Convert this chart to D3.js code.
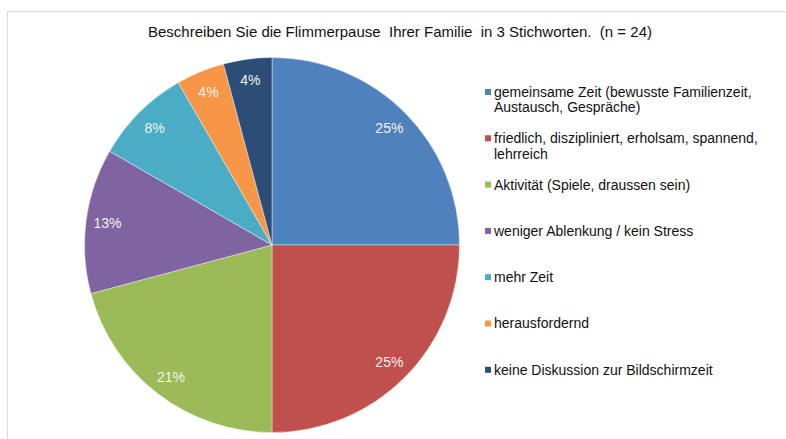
<!DOCTYPE html>
<html>
<head>
<meta charset="utf-8">
<script src="https://cdn.jsdelivr.net/npm/d3@7"></script>
<style>
  body { margin: 0; background: #fff; }
  svg { display: block; font-family: "Liberation Sans", Arial, sans-serif; }
</style>
</head>
<body>
<svg id="chart"></svg>
<script>
// answers (n = 24)
const categories = [
  ["gemeinsame Zeit (bewusste Familienzeit,", "Austausch, Gespräche)"],
  ["friedlich, diszipliniert, erholsam, spannend,", "lehrreich"],
  ["Aktivität (Spiele, draussen sein)"],
  ["weniger Ablenkung / kein Stress"],
  ["mehr Zeit"],
  ["herausfordernd"],
  ["keine Diskussion zur Bildschirmzeit"]
];
const counts = [6, 6, 5, 3, 2, 1, 1];
const percentLabels = ["25%", "25%", "21%", "13%", "8%", "4%", "4%"];
const sliceColors = ["#4f81bd", "#c0504d", "#9bbb59", "#8064a2", "#4bacc6", "#f79646", "#2c4d75"];

const width = 786, height = 439;
const svg = d3.select("#chart")
  .attr("width", width)
  .attr("height", height);

// chart area frame
svg.append("rect")
  .attr("x", 7.5)
  .attr("y", 11.5)
  .attr("width", width)
  .attr("height", height)
  .attr("fill", "#fff")
  .attr("stroke", "#d9d9d9")
  .attr("stroke-width", 1);

svg.append("text")
  .attr("x", 400)
  .attr("y", 37)
  .attr("text-anchor", "middle")
  .attr("font-size", "15px")
  .attr("fill", "#111")
  .style("white-space", "pre")
  .text("Beschreiben Sie die Flimmerpause  Ihrer Familie  in 3 Stichworten.  (n = 24)");

const radius = 187.5;
const g = svg.append("g")
  .attr("transform", "translate(272,245)");

const pie = d3.pie().sort(null).value(d => d);
const arcs = pie(counts);
const arc = d3.arc().innerRadius(0).outerRadius(radius);
const labelArc = d3.arc().innerRadius(166).outerRadius(166);

g.selectAll("path")
  .data(arcs)
  .enter()
  .append("path")
  .attr("d", arc)
  .attr("fill", (d, i) => sliceColors[i])
  .attr("stroke", "#fff")
  .attr("stroke-width", 0.4);

g.selectAll(".pct")
  .data(arcs)
  .enter()
  .append("text")
  .attr("class", "pct")
  .attr("transform", d => `translate(${labelArc.centroid(d)})`)
  .attr("text-anchor", "middle")
  .attr("dy", "0.35em")
  .attr("font-size", "14px")
  .attr("fill", "#f2f2f2")
  .text((d, i) => percentLabels[i]);

// legend
const legend = svg.append("g")
  .attr("transform", "translate(485,0)");

const items = legend.selectAll(".item")
  .data(categories)
  .enter()
  .append("g")
  .attr("class", "item")
  .attr("transform", (d, i) => `translate(0,${92 + i * 46.3})`);

items.append("rect")
  .attr("x", 0)
  .attr("y", -3)
  .attr("width", 6)
  .attr("height", 6)
  .attr("fill", (d, i) => sliceColors[i]);

items.append("text")
  .attr("font-size", "14px")
  .attr("fill", "#111")
  .selectAll("tspan")
  .data(d => d)
  .enter()
  .append("tspan")
  .attr("x", 9)
  .attr("y", (d, j) => j * 15.5)
  .attr("dy", "0.35em")
  .text(d => d);
</script>
</body>
</html>
